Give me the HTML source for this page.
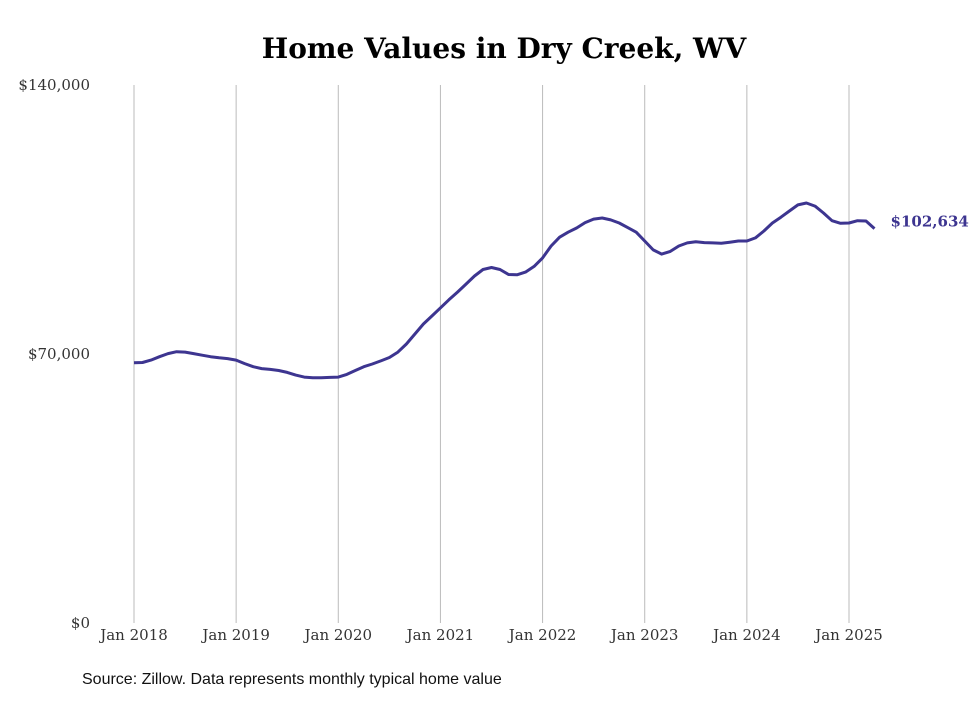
<!DOCTYPE html>
<html><head><meta charset="utf-8"><style>
body{margin:0;background:#fff;width:980px;height:699px;overflow:hidden}
svg text{font-family:"DejaVu Serif","Liberation Serif",serif}
</style></head><body>
<svg width="980" height="699">
<text x="504" y="58" text-anchor="middle" font-size="28" font-weight="bold" fill="#000">Home Values in Dry Creek, WV</text>
<g id="grid"></g><g id="ylabels"></g><g id="xlabels"></g>
<path id="line" fill="none" stroke="#3d3590" stroke-width="3" stroke-linejoin="round"/>
<text id="endlabel" font-size="15" font-weight="bold" fill="#3d3590"></text>
<text x="82" y="684" font-size="16" fill="#111" style="font-family:'Liberation Sans',sans-serif">Source: Zillow. Data represents monthly typical home value</text>
</svg>
<script>
const years=["Jan 2018","Jan 2019","Jan 2020","Jan 2021","Jan 2022","Jan 2023","Jan 2024","Jan 2025"];
const yTicks=[0,70000,140000];
const yTickLabels=["$0","$70,000","$140,000"];
const values=[67.7,67.8,68.4,69.3,70.1,70.6,70.5,70.1,69.7,69.3,69.0,68.8,68.4,67.5,66.7,66.2,66.0,65.7,65.2,64.5,64.0,63.8,63.8,63.9,64.0,64.7,65.7,66.7,67.4,68.2,69.1,70.5,72.6,75.2,77.8,79.9,82.0,84.1,86.1,88.2,90.3,92.0,92.5,92.0,90.7,90.6,91.3,92.8,95.0,98.1,100.4,101.7,102.8,104.2,105.1,105.4,104.9,104.1,102.9,101.7,99.4,97.1,96.0,96.7,98.1,98.9,99.2,99.0,98.9,98.8,99.1,99.4,99.4,100.2,102.0,104.1,105.6,107.2,108.8,109.3,108.5,106.7,104.7,104.0,104.1,104.7,104.6,102.634];
const NS="http://www.w3.org/2000/svg";
const x=m=>134+m*(715/84);
const y=v=>623-v*(538/140000);
const grid=document.getElementById('grid');
years.forEach((yr,i)=>{
 const l=document.createElementNS(NS,'line');
 l.setAttribute('x1',x(i*12));l.setAttribute('x2',x(i*12));l.setAttribute('y1',85);l.setAttribute('y2',623);
 l.setAttribute('stroke','#bbb');l.setAttribute('stroke-width','1');
 
 
 grid.appendChild(l);
 const t=document.createElementNS(NS,'text');
 t.setAttribute('x',x(i*12));t.setAttribute('y',640);t.setAttribute('text-anchor','middle');
 t.setAttribute('font-size','15');t.setAttribute('fill','#333');t.textContent=yr;
 
 
 document.getElementById('xlabels').appendChild(t);
});
yTicks.forEach((v,i)=>{
 const t=document.createElementNS(NS,'text');
 t.setAttribute('x',90);t.setAttribute('y',y(v)+5);t.setAttribute('text-anchor','end');
 t.setAttribute('font-size','15');t.setAttribute('fill','#333');t.textContent=yTickLabels[i];
 
 
 document.getElementById('ylabels').appendChild(t);
});
document.getElementById('line').setAttribute('d',values.map((v,i)=>(i?'L':'M')+x(i).toFixed(1)+','+y(v*1000).toFixed(1)).join(''));
const last=values[values.length-1];
const el=document.getElementById('endlabel');
el.setAttribute('x',x(values.length-1)+16);el.setAttribute('y',y(last*1000)-2);
el.textContent='$'+Math.round(last*1000).toLocaleString('en-US');
</script>
</body></html>
